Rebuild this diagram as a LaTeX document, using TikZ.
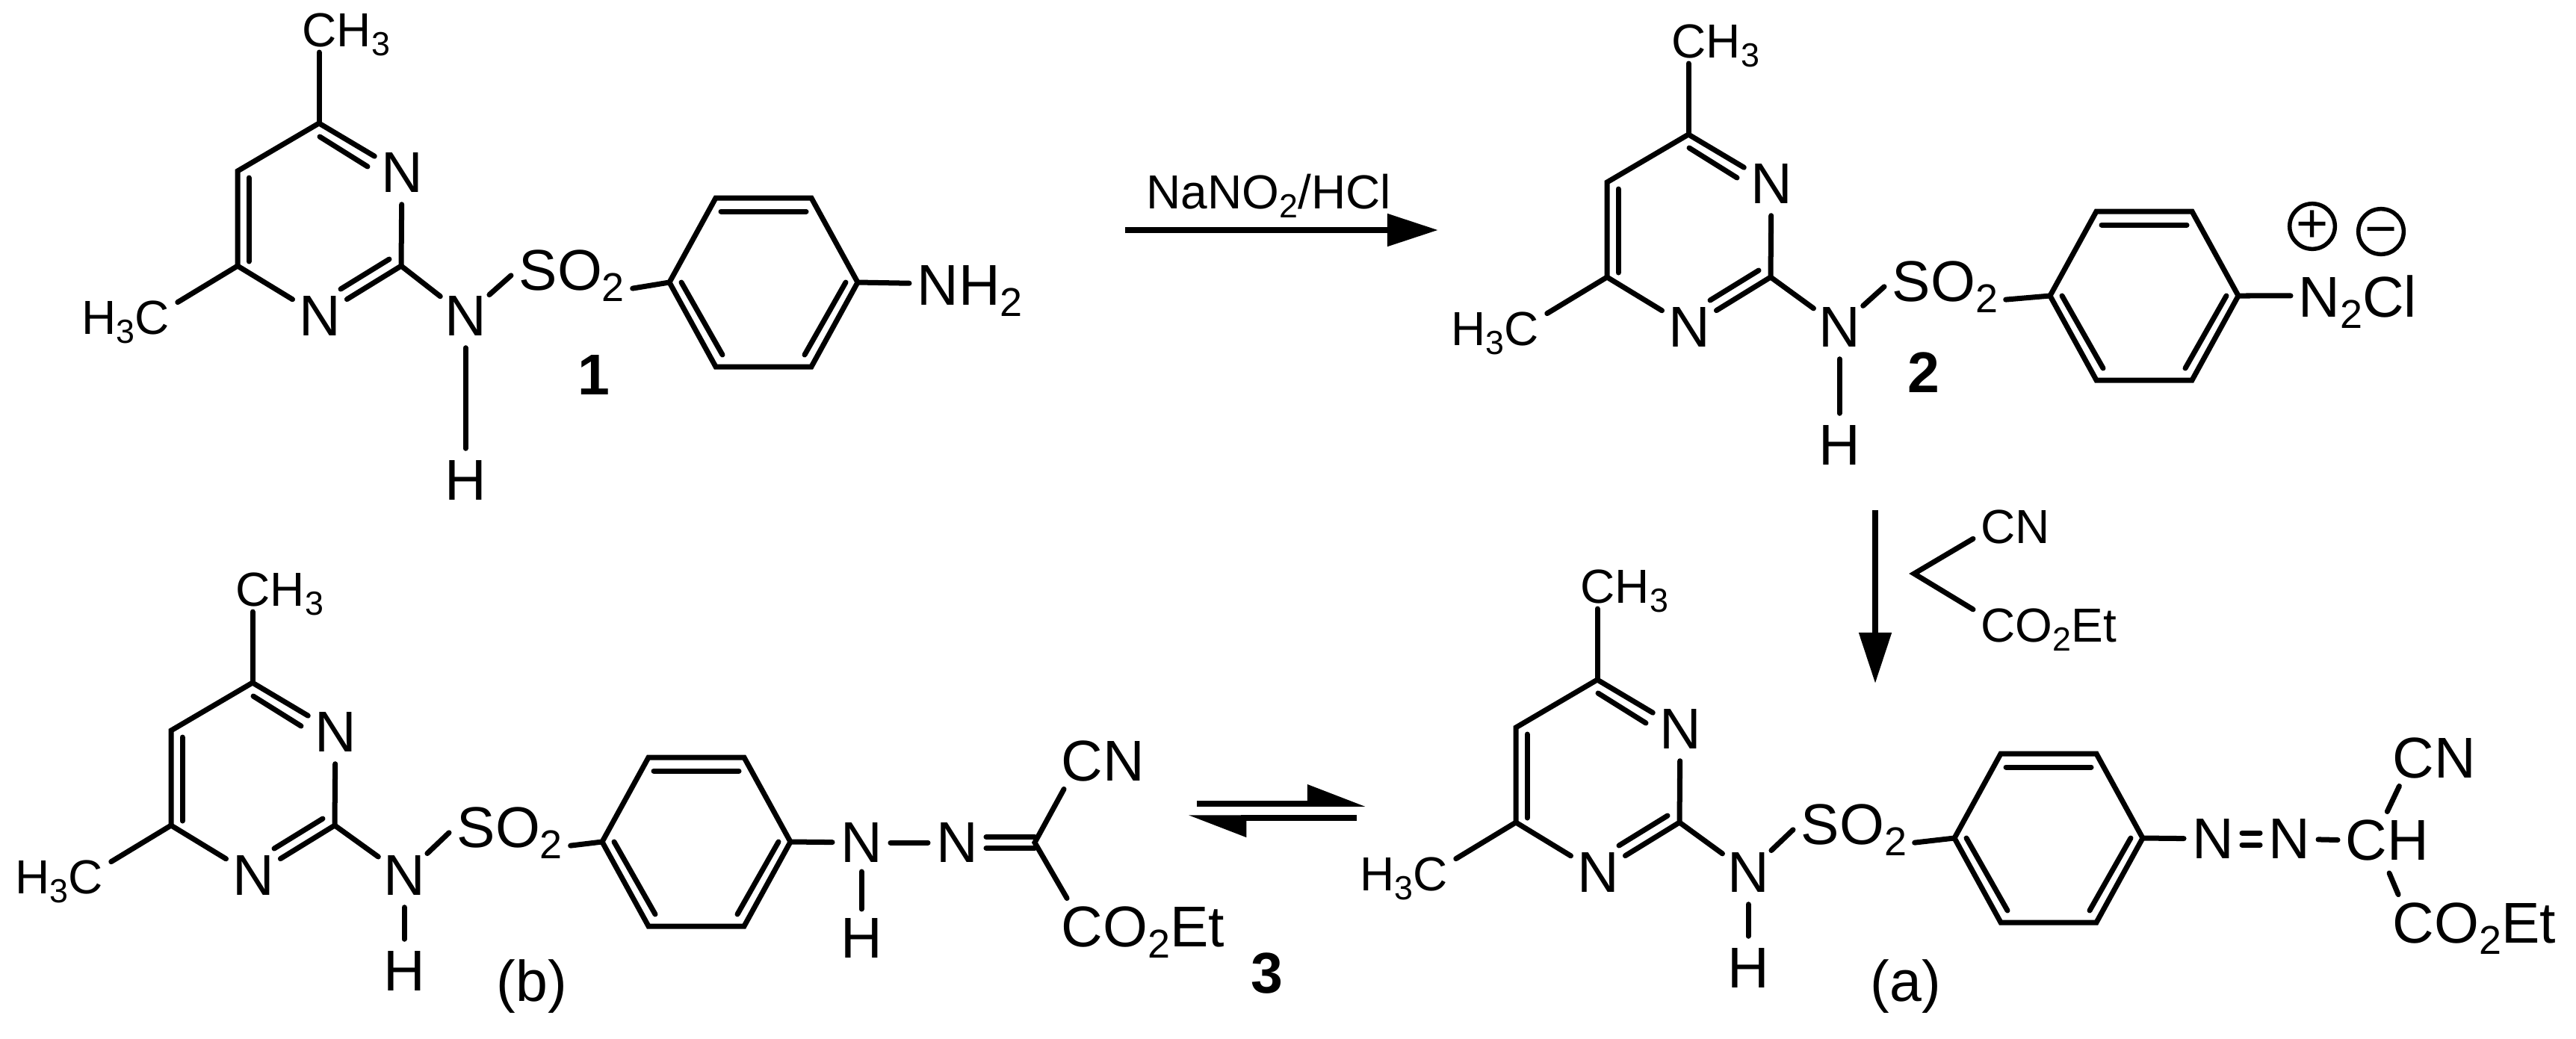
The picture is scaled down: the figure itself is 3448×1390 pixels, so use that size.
\documentclass[tikz,border=0pt]{standalone}
\usepackage{fontspec}
\usetikzlibrary{arrows.meta}
\setmainfont{Liberation Sans}
\newcommand{\lsub}[1]{\raisebox{-.2em}{\scalebox{.7}{#1}}}
\tikzset{
    bond/.style={line width=.07cm, line cap=round},
    bigtxt/.style={font=\fontsize{21.9}{24}\selectfont, inner sep=.1cm, anchor=base west},
    smalltxt/.style={font=\fontsize{18.2}{20}\selectfont, inner sep=.1cm, anchor=base west},
    atom/.style={circle, inner sep=0pt, minimum size=.84cm, font=\fontsize{21.9}{24}\selectfont},
    chainatom/.style={atom, minimum size=.64cm},
    numlabel/.style={font=\fontsize{21.9}{24}\selectfont\bfseries, inner sep=0pt},
    charge/.style={circle, draw, line width=.055cm, inner sep=0pt, minimum size=.52cm, font=\fontsize{21}{22}\selectfont},
    rxn/.style={line width=.08cm, -{Triangle[length=.68cm,width=.42cm]}},
    eqm/.style={line width=.075cm, -{Triangle[harpoon,length=.68cm,width=.5cm]}}
}
\begin{document}
\begin{tikzpicture}[x=.01cm, y=-.01cm]
    \useasboundingbox (0,0) rectangle (3448,1390);

    % the four sulfonamide parts
    \foreach \nm/\ox/\oy/\nx/\hy/\sx/\sy/\rx/\ry in {
        one/427/165/196/220/684/388/896/378,
        two/2260/180/202/158/2522/403/2744/396,
        hyd/338/914/203/128/601/1134/806/1127,
        azo/2138/910/202/128/2400/1130/2616/1122} {
        \begin{scope}[shift={(\ox,\oy)}]
            \coordinate (\nm-c4) at (0,0);
            \coordinate (\nm-c5) at (-109,64);
            \coordinate (\nm-c6) at (-109,191);
            \coordinate (\nm-c2) at (110,191);
            \node[atom] (\nm-n3) at (111,66) {N};
            \node[atom] (\nm-n1) at (1,258) {N};
            \node[atom] (\nm-nh) at (\nx,258) {N};
            \node[atom] (\nm-h) at (\nx,258+\hy) {H};
            \node[smalltxt] (\nm-ch3) at (-33,-103) {CH\lsub{3}};
            \node[smalltxt] (\nm-h3c) at (-328,282) {H\lsub{3}C};
            \draw[bond] (\nm-n3) -- (\nm-c4) -- (\nm-c5) -- (\nm-c6) -- (\nm-n1);
            \draw[bond] (\nm-n1) -- (\nm-c2) -- (\nm-n3);
            \draw[bond] (65,58) -- (1,18);
            \draw[bond] (-94,73) -- (-94,185);
            \draw[bond] (94,182) -- (29,222);
            \draw[bond, shorten <=.08cm] (\nm-ch3.base -| \nm-c4) -- (\nm-c4);
            \draw[bond] (\nm-c6) -- (\nm-h3c.21);
            \draw[bond] (\nm-c2) -- (\nm-nh);
            \draw[bond] (\nm-nh) -- (\nm-h);
        \end{scope}
        \node[bigtxt] (\nm-so2) at (\sx,\sy) {SO\lsub{2}};
        \begin{scope}[shift={(\rx,\ry)}]
            \coordinate (\nm-r1) at (0,0);
            \coordinate (\nm-r2) at (62,-113);
            \coordinate (\nm-r3) at (190,-113);
            \coordinate (\nm-r4) at (252,0);
            \coordinate (\nm-r5) at (190,113);
            \coordinate (\nm-r6) at (62,113);
            \draw[bond] (\nm-r1) -- (\nm-r2) -- (\nm-r3) -- (\nm-r4) -- (\nm-r5) -- (\nm-r6) -- cycle;
            \draw[bond] (69,-95) -- (183,-95);
            \draw[bond] (16,0) -- (71,97);
            \draw[bond] (236,0) -- (181,97);
        \end{scope}
        \draw[bond] (\nm-nh) -- (\nm-so2.west);
        \draw[bond] (\nm-so2.-12) -- (\nm-r1);
    }

    % 1
    \node[bigtxt] (nhtwo) at (1217,408) {NH\lsub{2}};
    \draw[bond] (one-r4) -- (nhtwo.173);
    \node[numlabel] (labone) at (795,502) {1};

    % first arrow
    \node[smalltxt] (reagone) at (1524,279) {NaNO\lsub{2}/HCl};
    \coordinate (arra) at (1506,308);
    \coordinate (arrb) at (1925,308);
    \draw[rxn] (arra) -- (arrb);

    % 2
    \node[bigtxt] (ntwocl) at (3066,424) {N\lsub{2}Cl};
    \draw[bond] (two-r4) -- (ntwocl.175);
    \node[charge] (plus) at (3095,303) {+};
    \node[charge] (minus) at (3187,310) {\vphantom{+}−};
    \node[numlabel] (labtwo) at (2575,499) {2};

    % second arrow and reagent
    \coordinate (arrc) at (2510,683);
    \coordinate (arrd) at (2510,915);
    \draw[rxn] (arrc) -- (arrd);
    \coordinate (ester) at (2562,768);
    \node[smalltxt] (estcn) at (2641,727) {CN};
    \node[smalltxt] (estco) at (2641,859) {CO\lsub{2}Et};
    \draw[bond] (estcn.196) -- (ester) -- (estco.165);

    % a
    \node[chainatom] (azo-na) at (2962,1123) {N};
    \node[chainatom] (azo-nb) at (3064,1123) {N};
    \node[bigtxt] (azo-ch) at (3129,1151) {CH};
    \node[bigtxt] (azo-cn) at (3192,1041) {CN};
    \node[bigtxt] (azo-co) at (3192,1262) {CO\lsub{2}Et};
    \draw[bond] (azo-r4) -- (azo-na);
    \foreach \s in {-.08cm,.08cm}
        \draw[bond, transform canvas={yshift=\s}] (azo-na) -- (azo-nb);
    \draw[bond] (azo-nb) -- (azo-ch.west);
    \draw[bond] (azo-ch.north) -- (azo-cn.219);
    \draw[bond, shorten <=.07cm] (azo-ch.south) -- (azo-co.156);
    \node[bigtxt, anchor=base] (laba) at (2551,1340) {(a)};

    % b
    \node[chainatom] (hyd-na) at (1153,1128) {N};
    \node[chainatom] (hyd-nb) at (1281,1128) {N};
    \node[atom, minimum size=.7cm] (hyd-h) at (1153,1256) {H};
    \coordinate (hyd-c) at (1385,1128);
    \node[bigtxt] (hyd-cn) at (1410,1045) {CN};
    \node[bigtxt] (hyd-co) at (1410,1267) {CO\lsub{2}Et};
    \draw[bond] (hyd-r4) -- (hyd-na);
    \draw[bond] (hyd-na) -- (hyd-nb);
    \draw[bond] (hyd-na) -- (hyd-h);
    \foreach \s in {-.075cm,.075cm}
        \draw[bond, transform canvas={yshift=\s}] (hyd-nb) -- (hyd-c);
    \draw[bond] (hyd-cn.216) -- (hyd-c) -- (hyd-co.156);
    \node[bigtxt, anchor=base] (labb) at (712,1340) {(b)};
    \node[numlabel] (labthree) at (1696,1303) {3};

    % equilibrium
    \coordinate (eqa) at (1602,1076);
    \coordinate (eqb) at (1828,1076);
    \coordinate (eqc) at (1816,1095);
    \coordinate (eqd) at (1590,1095);
    \draw[eqm] (eqa) -- (eqb);
    \draw[eqm] (eqc) -- (eqd);
\end{tikzpicture}
\end{document}
